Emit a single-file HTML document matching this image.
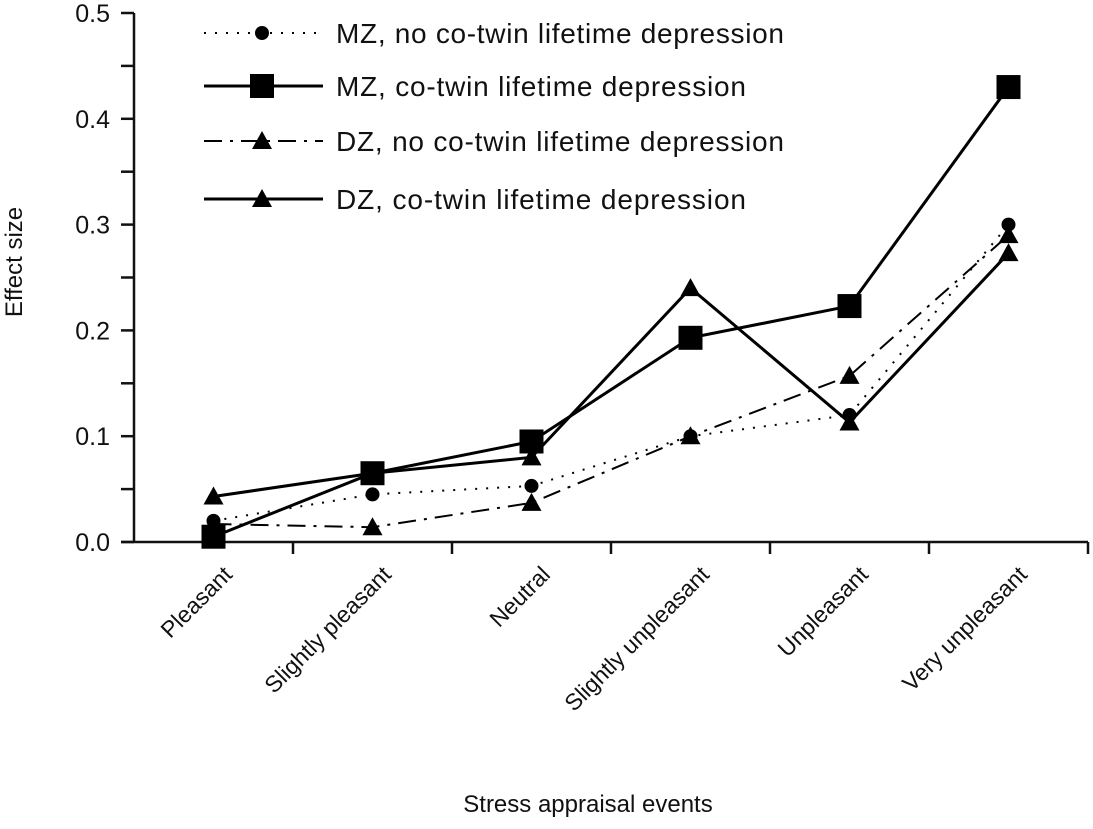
<!DOCTYPE html>
<html><head><meta charset="utf-8"><style>
body{margin:0;background:#fff}
svg text{font-family:"Liberation Sans",sans-serif;fill:#111}
</style></head><body>
<svg width="1093" height="824" id="c">
<g id="axes"></g><g id="series"></g><g id="legend"></g>
<text x="22" y="262" font-size="24" transform="rotate(-90 22 262)" text-anchor="middle">Effect size</text>
<text x="588" y="812" font-size="24" text-anchor="middle">Stress appraisal events</text>
</svg>
<script>
const categories=["Pleasant","Slightly pleasant","Neutral","Slightly unpleasant","Unpleasant","Very unpleasant"];
const mzNo=[0.02,0.045,0.053,0.10,0.12,0.30];
const mzCo=[0.005,0.065,0.095,0.193,0.223,0.43];
const dzNo=[0.017,0.014,0.037,0.10,0.157,0.29];
const dzCo=[0.043,0.065,0.08,0.24,0.113,0.273];
const yTicks=["0.0","0.1","0.2","0.3","0.4","0.5"];
const legendLabels=["MZ, no co-twin lifetime depression","MZ, co-twin lifetime depression","DZ, no co-twin lifetime depression","DZ, co-twin lifetime depression"];
const NS="http://www.w3.org/2000/svg";
const X0=134,X1=1088,Y0=542,Y1=13;
const bw=(X1-X0)/categories.length;
const xs=i=>X0+bw*(i+0.5);
const ys=v=>Y0-(v/0.5)*(Y0-Y1);
function mk(tag,attrs,parent){const e=document.createElementNS(NS,tag);for(const k in attrs)e.setAttribute(k,attrs[k]);parent.appendChild(e);return e;}
const ax=document.getElementById('axes');
let e=mk('line',{x1:X0,y1:Y1,x2:X0,y2:Y0,stroke:'#111','stroke-width':2.5},ax);


e=mk('line',{x1:X0-13,y1:Y0,x2:X1,y2:Y0,stroke:'#111','stroke-width':2.5},ax);


for(let k=0;k<=10;k++){const y=ys(k*0.05);mk('line',{x1:X0-13,y1:y,x2:X0,y2:y,stroke:'#111','stroke-width':2.5},ax);}
yTicks.forEach(t=>{const tx=mk('text',{x:110,y:ys(parseFloat(t))+9,'font-size':25,'text-anchor':'end'},ax);tx.textContent=t;

});
categories.forEach((c,i)=>{const bx=X0+bw*(i+1);mk('line',{x1:bx,y1:Y0,x2:bx,y2:Y0+12,stroke:'#111','stroke-width':2.5},ax);
const x=xs(i)+20,y=576;const tx=mk('text',{x:x,y:y,'font-size':23,'text-anchor':'end',transform:`rotate(-45 ${x} ${y})`},ax);tx.textContent=c;

});
function marker(type,x,y,p){
 if(type==='circle')return mk('circle',{cx:x,cy:y,r:7,fill:'#000'},p);
 if(type==='square')return mk('rect',{x:x-12,y:y-12,width:24,height:24,fill:'#000'},p);
 return mk('polygon',{points:`${x},${y-10} ${x-10},${y+8} ${x+10},${y+8}`,fill:'#000'},p);
}
const series=[
 {d:mzNo,dash:'2 9',w:2,m:'circle',name:'mz-no-cotwin-depression'},
 {d:mzCo,dash:'',w:3,m:'square',name:'mz-cotwin-depression'},
 {d:dzNo,dash:'18 8 3 8',w:2,m:'tri',name:'dz-no-cotwin-depression'},
 {d:dzCo,dash:'',w:3,m:'tri',name:'dz-cotwin-depression'}];
const sg=document.getElementById('series'),lg=document.getElementById('legend');
const legY=[33,86,141,199];
series.forEach((s,si)=>{
 const g=mk('g',{},sg);
 
 
 const pts=s.d.map((v,i)=>xs(i)+','+ys(v)).join(' ');
 const pl=mk('polyline',{points:pts,fill:'none',stroke:'#000','stroke-width':s.w,'stroke-dasharray':s.dash},g);
 
 
 s.d.forEach((v,i)=>{const m=marker(s.m,xs(i),ys(v),g);
 
 });
 const le=mk('g',{},lg);
 
 
 const y=legY[si];
 mk('line',{x1:204,y1:y,x2:323,y2:y,stroke:'#000','stroke-width':s.w,'stroke-dasharray':s.dash},le);
 marker(s.m,262,y,le);
 const t=mk('text',{x:336,y:y+10,'font-size':28,textLength:(si%2?410:448)},le);t.textContent=legendLabels[si];
});
</script>
</body></html>
